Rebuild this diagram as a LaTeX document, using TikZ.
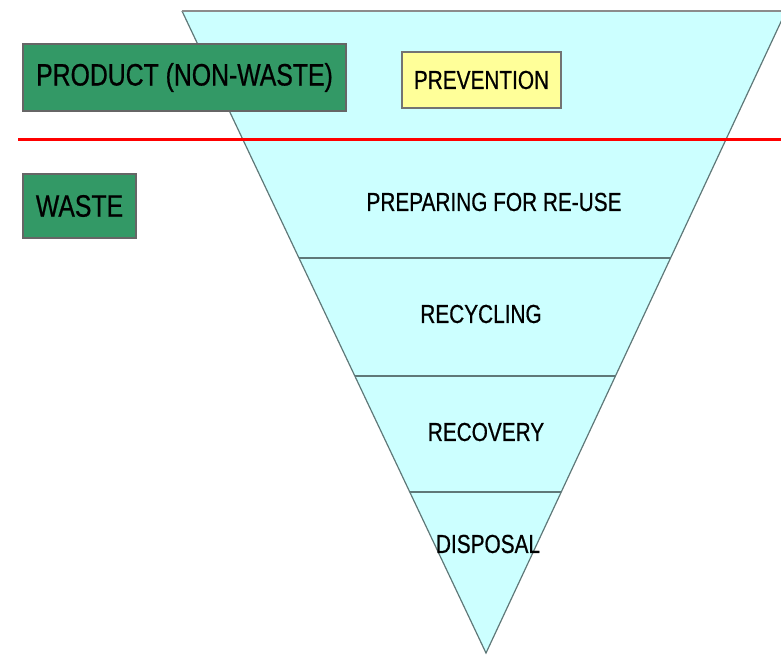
\documentclass[tikz,border=0pt]{standalone}
\usepackage{fontspec}
\setmainfont{Liberation Sans}[FakeStretch=0.8, FakeBold=0.6]
\usetikzlibrary{calc}
\definecolor{tagGreen}{HTML}{339966}
\definecolor{levelFill}{HTML}{CCFFFF}
\definecolor{prevYellow}{HTML}{FFFF99}
\definecolor{edgeGray}{HTML}{5F7878}

\begin{document}
\begin{tikzpicture}[x=1pt, y=-1pt,
    level/.style={font=\fontsize{26}{30}\selectfont, inner sep=0pt},
    tag/.style={draw=black!60, line width=1.2pt, fill=tagGreen,
      font=\fontsize{31}{36}\selectfont, inner sep=0pt}]
  \useasboundingbox (0,0) rectangle (781,655);
  % Hierarchy
  \coordinate (tl) at (182,11);
  \coordinate (tr) at (786,11);
  \coordinate (ap) at (486,653);
  \fill[levelFill] (tl) -- (tr) -- (ap) -- cycle;
  \draw[edgeGray, line width=1.2pt] (tl) -- (ap) -- (tr);
  \draw[black!45, line width=2.2pt] (tl) -- (tr);
  \foreach \t in {0.3847,0.5685,0.7492}
    \draw[edgeGray, line width=1.6pt] ($(tl)!\t!(ap)$) -- ($(tr)!\t!(ap)$);
  % Levels
  \node[draw=black!55, line width=1.2pt, fill=prevYellow, inner sep=0pt,
    minimum width=159pt, minimum height=56pt,
    font=\fontsize{26}{30}\selectfont] at (481.5,80) (prev) {PREVENTION};
  \node[level] at (494,202) (reuse) {PREPARING FOR RE-USE};
  \node[level] at (481,314) (recyc) {RECYCLING};
  \node[level] at (486,432) (recov) {RECOVERY};
  \node[level] at (488,544) (disp) {DISPOSAL};
  % Waste line
  \coordinate (wl) at (18,140);
  \coordinate (wr) at (781,140);
  \draw[red, line width=3pt] (wl) -- (wr);
  % Tags
  \node[tag, minimum width=323pt, minimum height=67pt] at (184.5,77.5) (prod) {PRODUCT (NON-WASTE)};
  \node[tag, minimum width=113pt, minimum height=64pt] at (79.5,206) (waste) {WASTE};
\end{tikzpicture}
\end{document}
